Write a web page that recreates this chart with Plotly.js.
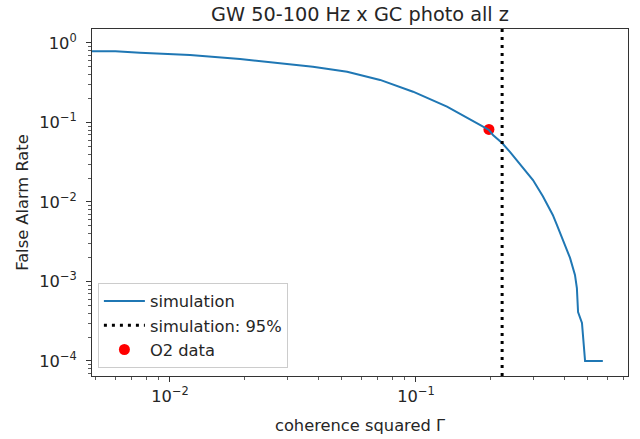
<!DOCTYPE html>
<html>
<head>
<meta charset="utf-8">
<script src="https://cdn.plot.ly/plotly-3.0.1.min.js"></script>
<style>html,body{margin:0;padding:0;background:#fff}#chart{width:640px;height:439px}</style>
</head>
<body>
<div id="chart"></div>
<script>
// simulated false alarm rate vs coherence squared
const simX = [0.004, 0.0060, 0.00755, 0.01206, 0.01927, 0.03079, 0.0381, 0.0525, 0.0715, 0.0973, 0.1337, 0.182, 0.198, 0.2056, 0.224, 0.241, 0.272, 0.299, 0.328, 0.360, 0.374, 0.396, 0.423, 0.443, 0.451, 0.456, 0.473, 0.487, 0.575];
const simY = [0.79, 0.79, 0.755, 0.706, 0.629, 0.544, 0.503, 0.435, 0.343, 0.244, 0.158, 0.093, 0.0805, 0.0697, 0.0552, 0.0426, 0.027, 0.0189, 0.0118, 0.00686, 0.00514, 0.00333, 0.00198, 0.00121, 0.000828, 0.000413, 0.000301, 0.0001, 0.0001];
// 95% threshold
const threshX = 0.224;
// O2 data point
const o2X = [0.198];
const o2Y = [0.0817];

const yTickVals = [1e-4, 1e-3, 1e-2, 1e-1, 1];
const yTickText = ["10<sup>−4</sup>", "10<sup>−3</sup>", "10<sup>−2</sup>", "10<sup>−1</sup>", "10<sup>0</sup>"];
const xTickVals = [1e-2, 1e-1];
const xTickText = ["10<sup>−2</sup>", "10<sup>−1</sup>"];

const font = "DejaVu Sans, Verdana, sans-serif";
const fs = 16.3;

const traces = [
  {x: o2X, y: o2Y, mode: "markers", name: "O2 data", legendrank: 3,
   marker: {color: "red", size: 11}},
  {x: simX, y: simY, mode: "lines", name: "simulation", legendrank: 1,
   line: {color: "#1f77b4", width: 2}},
  {x: [threshX, threshX], y: [1e-6, 100], mode: "lines", name: "simulation: 95%", legendrank: 2,
   line: {color: "black", width: 3, dash: "3px,5px"}}
];

const layout = {
  width: 640, height: 439,
  margin: {l: 92, r: 12, t: 29, b: 63},
  paper_bgcolor: "#fff", plot_bgcolor: "#fff",
  font: {family: font, size: fs, color: "#262626"},
  showlegend: true,
  title: {text: "GW 50-100 Hz x GC photo all z", font: {family: font, size: 19.3, color: "#262626"},
          x: 0.5, xref: "paper", y: 1 - 14/439, yref: "container", yanchor: "middle"},
  xaxis: {type: "log", range: [-2.317, -0.138], showgrid: false, zeroline: false,
          showline: true, mirror: true, linecolor: "#333", linewidth: 1,
          ticks: "outside", ticklen: 5, tickcolor: "#333", tickwidth: 1,
          tickvals: xTickVals, ticktext: xTickText, tickfont: {size: fs},
          minor: {ticks: "outside", ticklen: 3, tickcolor: "#333", tickwidth: 0.8, dtick: "D1", showgrid: false},
          title: {text: "coherence squared Γ", font: {size: fs}, standoff: 15}},
  yaxis: {type: "log", range: [-4.189, 0.176], showgrid: false, zeroline: false,
          showline: true, mirror: true, linecolor: "#333", linewidth: 1,
          ticks: "outside", ticklen: 5, tickcolor: "#333", tickwidth: 1, ticklabelstandoff: 6,
          tickvals: yTickVals, ticktext: yTickText, tickfont: {size: fs},
          minor: {ticks: "outside", ticklen: 3, tickcolor: "#333", tickwidth: 0.8, dtick: "D1", showgrid: false},
          title: {text: "False Alarm Rate", font: {size: fs}, standoff: 6}},
  legend: {x: 0.011, y: 0.023, xanchor: "left", yanchor: "bottom",
           bgcolor: "rgba(255,255,255,0.8)", bordercolor: "#ccc", borderwidth: 1,
           font: {size: fs}, itemwidth: 41, tracegroupgap: 0}
};

Plotly.newPlot("chart", traces, layout, {displayModeBar: false, staticPlot: true});
</script>
</body>
</html>
